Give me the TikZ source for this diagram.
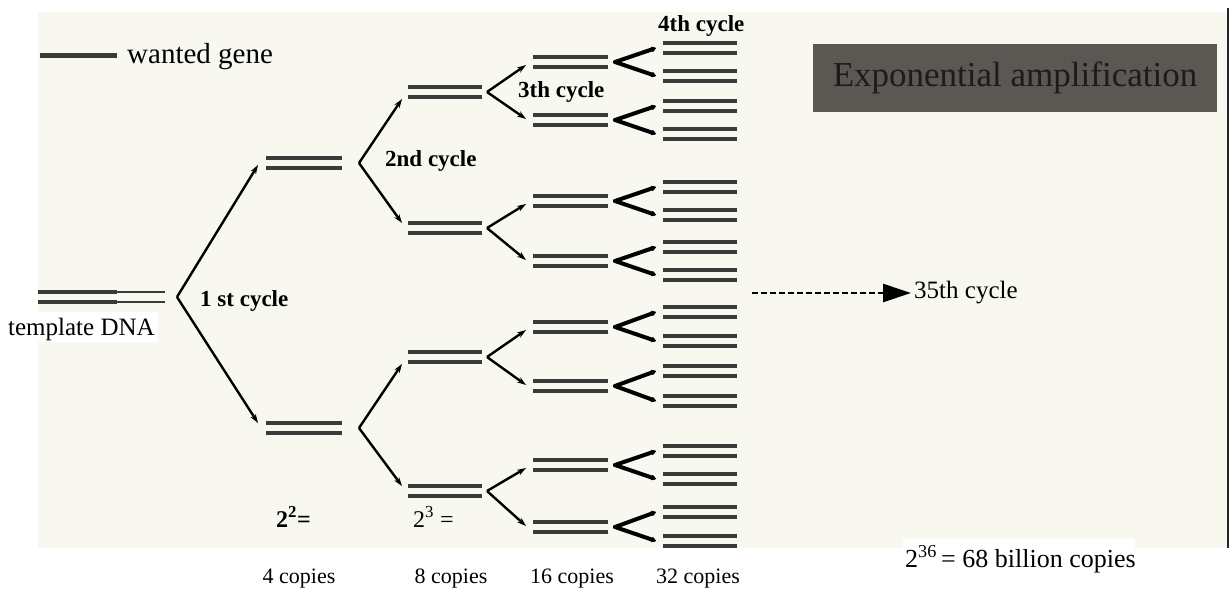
\documentclass[tikz,border=0pt]{standalone}
\usepackage{fontspec}
\setmainfont{Liberation Serif}
\usetikzlibrary{arrows.meta,calc}
\definecolor{scan}{HTML}{F8F8F1}
\definecolor{dnacol}{HTML}{3A3A3A}
\definecolor{boxfill}{HTML}{5B5752}
\definecolor{boxtext}{HTML}{1E1B18}
\tikzset{
  dna/.style={minimum width=75pt, minimum height=14pt, inner sep=0pt, outer sep=0pt,
    path picture={
      \draw[line width=4pt,dnacol] ([yshift=-2pt]path picture bounding box.north west) -- ([yshift=-2pt]path picture bounding box.north east);
      \draw[line width=4pt,dnacol] ([yshift=2pt]path picture bounding box.south west) -- ([yshift=2pt]path picture bounding box.south east);}},
  branch/.style={line width=2.4pt, -{Stealth[length=9pt,width=6pt]}},
  forkline/.style={line width=4pt, line cap=round, -{Stealth[length=6pt,width=7pt,round]}},
  cyc/.style={font=\bfseries\fontsize{23}{26}\selectfont, inner sep=0pt, anchor=base west},
  lab/.style={font=\fontsize{22}{26}\selectfont, inner sep=0pt, anchor=base},
  thinstrand/.style={line width=1.6pt, dnacol},
}
\begin{document}
\begin{tikzpicture}[x=1pt,y=-1pt]
\useasboundingbox (0,0) rectangle (1232,589);
% scanned page background
\fill[scan] (38,12) rectangle (1228,548);
\fill[white] (0,312) rectangle (158,342);
\fill[white] (903,539) rectangle (1135,548);
\draw[line width=2pt, black!85] (1228,8) -- (1228,548);

% legend
\node[fill=dnacol, minimum width=77pt, minimum height=5pt, inner sep=0pt] (leg) at (78.5,55) {};
\node[font=\fontsize{29}{32}\selectfont, inner sep=0pt, anchor=base west] (legtxt) at (127,63) {wanted gene};

% template DNA
\node[dna, minimum width=79pt] (T) at (77.5,297) {};
\coordinate (Tend) at (165,297);
\draw[thinstrand] ([yshift=5pt]T.east) -- ([yshift=5pt]Tend);
\draw[thinstrand] ([yshift=-5pt]T.east) -- ([yshift=-5pt]Tend);
\node[font=\fontsize{25}{28}\selectfont, inner sep=0pt, anchor=base west] (Ttxt) at (8,335) {template DNA};

% level 1
\node[dna, minimum width=76pt] (L1a) at (304,163) {};
\node[dna, minimum width=76pt] (L1b) at (304,428) {};
% level 2
\foreach \n/\y in {a/92,b/228,c/357,d/491}
  \node[dna, minimum width=74pt] (L2\n) at (445,\y) {};
% level 3
\foreach \n/\y in {a/62,b/120,c/201,d/261,e/327,f/386,g/465,h/527}
  \node[dna] (L3\n) at (570.5,\y) {};
% level 4
\foreach \n/\y in {1/48,2/76,3/106,4/134,5/187,6/215,7/247,8/275,9/312,10/341,11/371,12/401,13/451,14/479,15/512,16/541}
  \node[dna, minimum width=74pt] (L4-\n) at (700,\y) {};

% first cycle
\coordinate (v0) at ([xshift=12pt]Tend);
\draw[branch] (v0) -- ([xshift=-8pt,yshift=-2pt]L1a.west);
\draw[branch] (v0) -- ([xshift=-8pt,yshift=5pt]L1b.west);
% second cycle
\foreach \s/\u/\d in {a/a/b, b/c/d}{
  \coordinate (v1\s) at ([xshift=17pt]L1\s.east);
  \draw[branch] (v1\s) -- ([xshift=-6pt,yshift=-7pt]L2\u.west);
  \draw[branch] (v1\s) -- ([xshift=-6pt,yshift=5pt]L2\d.west);
}
% third cycle
\foreach \s/\u/\d in {a/a/b, b/c/d, c/e/f, d/g/h}{
  \coordinate (v2\s) at ([xshift=5pt]L2\s.east);
  \draw[branch] (v2\s) -- ([xshift=-7pt,yshift=-3pt]L3\u.west);
  \draw[branch] (v2\s) -- ([xshift=-7pt,yshift=1pt]L3\d.west);
}
% fourth cycle
\foreach \s/\u/\d in {a/1/2, b/3/4, c/5/6, d/7/8, e/9/10, f/11/12, g/13/14, h/15/16}{
  \coordinate (v3\s) at ([xshift=7pt]L3\s.east);
  \draw[forkline] (v3\s) -- ([xshift=-7pt]L4-\u.west);
  \draw[forkline] (v3\s) -- ([xshift=-7pt]L4-\d.west);
}

% cycle labels
\node[cyc] (c1) at (200,306) {1 st cycle};
\node[cyc] (c2) at (385,166) {2nd cycle};
\node[cyc] (c3) at (518,97) {3th cycle};
\node[cyc] (c4) at (658,31) {4th cycle};

% dashed arrow to 35th cycle
\coordinate (dstart) at (752,293);
\node[font=\fontsize{25}{28}\selectfont, inner sep=0pt, anchor=west] (c35) at (914,293) {35th cycle};
\draw[line width=2.6pt, dash pattern=on 6pt off 3pt, -{Triangle[length=28pt,width=18pt]}] (dstart) -- ([xshift=-3pt]c35.west);

% title box
\node[fill=boxfill, minimum width=404pt, minimum height=68pt, inner sep=0pt,
      font=\fontsize{35}{38}\selectfont, text=boxtext] (title) at (1015,78) {Exponential amplification};

% counts
\node[font=\bfseries\fontsize{24}{26}\selectfont, inner sep=0pt, anchor=base west] (p2) at (276,527) {2\textsuperscript{2}=};
\node[font=\fontsize{24}{26}\selectfont, inner sep=0pt, anchor=base west] (p3) at (413,527) {2\textsuperscript{3} =};
\node[lab] (n4) at (299,583) {4 copies};
\node[lab] (n8) at (451,583) {8 copies};
\node[lab] (n16) at (572,583) {16 copies};
\node[lab] (n32) at (698,583) {32 copies};
\node[font=\fontsize{26}{28}\selectfont, inner sep=0pt, anchor=base west] (n36) at (905,567) {2\textsuperscript{36}\,= 68 billion copies};
\end{tikzpicture}
\end{document}
